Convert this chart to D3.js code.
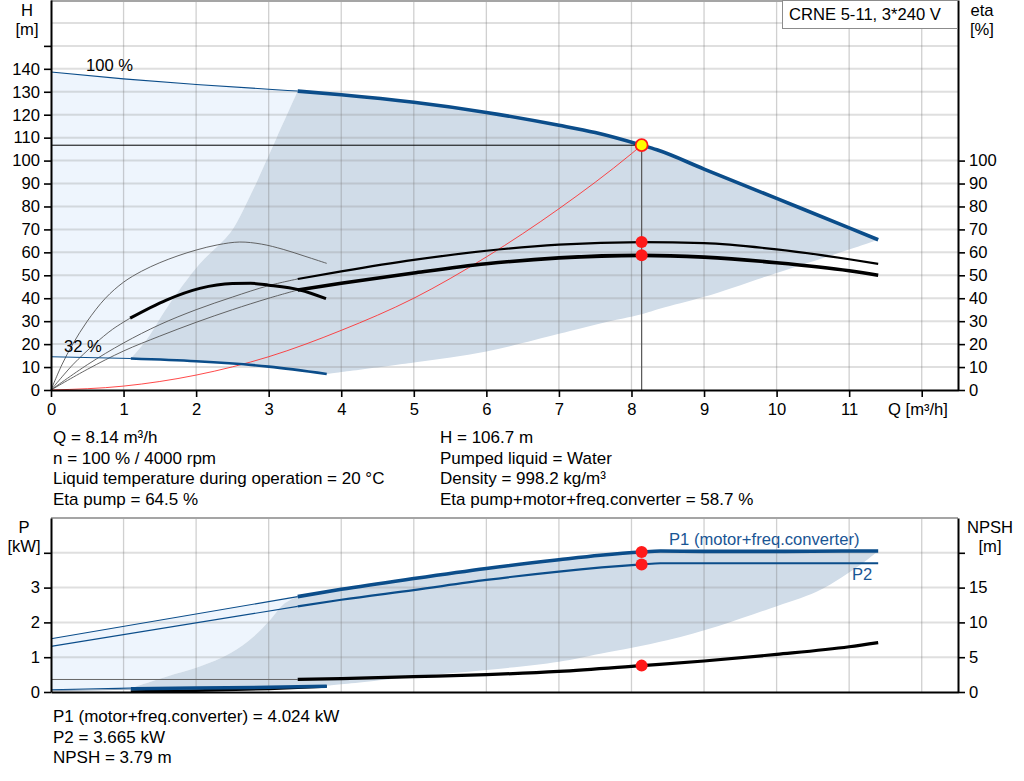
<!DOCTYPE html>
<html><head><meta charset="utf-8">
<script src="https://cdn.jsdelivr.net/npm/d3@7"></script>
<style>
body{margin:0;background:#fff}
svg{display:block;font-family:"Liberation Sans",Arial,sans-serif}
</style>
</head><body><svg id="c" width="1024" height="781"></svg>
<script>
// ---------- DATA (Q in m³/h) ----------
const qTicks = [0,1,2,3,4,5,6,7,8,9,10,11,12];
const qTickLabels = ["0","1","2","3","4","5","6","7","8","9","10","11",""];
const hTicks = [0,10,20,30,40,50,60,70,80,90,100,110,120,130,140,150];
const etaTicks = [0,10,20,30,40,50,60,70,80,90,100];
const pTicks = [0,1,2,3,4];
const npshTicks = [0,5,10,15,20];

// Head curves
const head100Thin = [[0,138.6],[1,135.6],[2,133.2],[3,131.1],[3.4,130.3]];
const head100 = [[3.4,130.3],[4,128.7],[5,125.4],[6,121],[7,115.4],[7.5,112.2],[8.14,106.7],[8.35,104.7],[9,96.3],[10,83.5],[11,70.7],[11.4,65.5]];
const head32Thin = [[0,14.5],[1.1,13.7]];
const head32 = [[1.1,13.7],[2,12.5],[3,10.2],[3.8,7]];
// Operating-range boundaries (head chart)
const headLeftBound = [[1.1,13.7],[1.32,22],[1.6,36],[2.05,55],[2.47,68.5],[2.72,83],[3.11,110],[3.4,130.3]];
const headLowBound = [[3.8,7],[5,12],[6,16.8],[7,24.5],[7.57,29],[8.14,33],[8.4,35.5],[9,40.6],[10,51],[11,61.2],[11.4,65.5]];
// Efficiency curves
const etaPump100Thin = [[0,0],[0.5,11],[1,20.5],[1.5,28.5],[2,35],[2.5,40.5],[3,45.5],[3.4,48.4]];
const etaPump100 = [[3.4,48.4],[4,51.7],[5,56.7],[6,60.7],[7,63.4],[8.14,64.5],[9,64],[10,61.3],[11,57],[11.4,55]];
const etaTot100Thin = [[0,0],[0.5,9],[1,17],[1.5,23.5],[2,29.5],[2.5,35],[3,40],[3.4,43.6]];
const etaTot100 = [[3.4,43.6],[4,46.5],[5,51],[6,55],[7,57.6],[8.14,58.7],[9,57.9],[10,55.5],[11,52],[11.4,50]];
const etaPump32Thin = [[0,0],[0.15,11],[0.3,20],[0.5,30],[0.75,40],[1,47],[1.25,51.8],[1.5,55.5],[1.75,58.5],[2,61],[2.3,63.3],[2.6,64.5],[2.9,63.6],[3.2,61.3],[3.5,58.3],[3.8,55.2]];
const etaTot32Thin = [[0,0],[0.3,11],[0.6,20],[0.85,26.5],[1.09,31.3]];
const etaTot32 = [[1.09,31.3],[1.59,39.2],[2.05,44.3],[2.5,46.4],[2.75,46.5],[3,45.7],[3.43,43.6],[3.79,39.8]];
// System curve
const systemCurve = [[0,0],[1,1.7],[2,6.5],[3,14.5],[4,26],[5,40],[6,58],[7,79],[8,103],[8.14,106.7]];
// Duty point
const dutyQ = 8.14, dutyH = 106.7, dutyEtaPump = 64.5, dutyEtaTot = 58.7;
const dutyP1 = 4.024, dutyP2 = 3.665, dutyNPSH = 3.79;

// Power / NPSH
const p1_100Thin = [[0,1.53],[3.4,2.74]];
const p1_100 = [[3.4,2.74],[4,2.95],[5,3.26],[6,3.55],[7,3.8],[7.57,3.93],[8.14,4.024],[8.4,4.05],[9,4.04],[10,4.04],[11,4.05],[11.4,4.05]];
const p2_100Thin = [[0,1.31],[3.4,2.46]];
const p2_100 = [[3.4,2.46],[4,2.65],[5,2.93],[6,3.22],[7,3.46],[8.14,3.665],[8.4,3.7],[9,3.7],[10,3.7],[11,3.7],[11.4,3.7]];
const p1_32Thin = [[0,0.06],[1.1,0.11]];
const p1_32 = [[1.1,0.11],[2,0.13],[3,0.15],[3.8,0.18]];
const p2_32Thin = [[0,0.04],[1.1,0.08]];
const p2_32 = [[1.1,0.08],[2,0.1],[3,0.12],[3.8,0.15]];
const npsh100Thin = [[0,1.8],[3.4,1.8]];
const npsh100 = [[3.4,1.82],[4,1.92],[5,2.2],[6,2.5],[7,2.95],[8.14,3.79],[9,4.45],[10,5.4],[11,6.5],[11.4,7.1]];
const npsh32 = [[1.1,0.05],[2,0.2],[3,0.45],[3.8,0.78]];
const powLeftBound = [[1.1,0.11],[1.59,0.44],[2.05,0.73],[2.47,1.11],[2.79,1.59],[3.02,2.07],[3.22,2.55],[3.4,2.74]];
const powLowBound = [[3.8,0.18],[4,0.22],[5,0.44],[6,0.63],[7,0.87],[7.57,1.1],[8.49,1.49],[9.2,1.9],[9.91,2.4],[10.55,2.88],[10.9,3.3],[11.2,3.72],[11.4,4.05]];

const infoLeft = ["Q = 8.14 m³/h","n = 100 % / 4000 rpm","Liquid temperature during operation = 20 °C","Eta pump = 64.5 %"];
const infoRight = ["H = 106.7 m","Pumped liquid = Water","Density = 998.2 kg/m³","Eta pump+motor+freq.converter = 58.7 %"];
const infoBottom = ["P1 (motor+freq.converter) = 4.024 kW","P2 = 3.665 kW","NPSH = 3.79 m"];

// ---------- DRAWING ----------
const BLUE = "#0b4d8a", LIGHT = "#eef5fd", DARK = "#d0dce8", FS = 16.6, FI = 17;
const svg = d3.select("#c");
svg.append("rect").attr("width",1024).attr("height",781).attr("fill","#fff");

const x = d3.scaleLinear().domain([0,12.5]).range([51,958]);
const yH = d3.scaleLinear().domain([0,170]).range([390,0]);
const yE = d3.scaleLinear().domain([0,170]).range([390,0]);
const yP = d3.scaleLinear().domain([0,5]).range([692,518]);
const yN = d3.scaleLinear().domain([0,25]).range([692,518]);

const lineOf = (ys, curve) => d3.line().x(d=>x(d[0])).y(d=>ys(d[1])).curve(curve||d3.curveMonotoneX);
const rev = a => a.slice().reverse();
// closed region built from smooth boundary segments
function region(ys, segs){
  const gen = d3.line().x(d=>x(d[0])).y(d=>ys(d[1])).curve(d3.curveCatmullRom.alpha(0.5));
  return segs.map((s,i)=>{ const p = gen(s); return i ? "L"+p.slice(1) : p; }).join("") + "Z";
}

function grid(ys, hVals, top, bottom){
  const g = svg.append("g");
  g.selectAll(".h").data(hVals).join("line")
    .attr("x1",x(0)).attr("x2",x(12.5)).attr("y1",d=>ys(d)).attr("y2",d=>ys(d))
    .attr("stroke","rgba(140,140,140,0.28)").attr("stroke-width",2);
  g.selectAll(".v").data(qTicks.slice(1)).join("line")
    .attr("x1",d=>x(d)).attr("x2",d=>x(d)).attr("y1",top).attr("y2",bottom)
    .attr("stroke","rgba(120,120,120,0.35)").attr("stroke-width",1.3);
}

// --- top chart fills
svg.append("path").attr("fill",LIGHT)
  .attr("d", region(yH, [head100Thin, rev(headLeftBound), rev(head32Thin)]));
svg.append("path").attr("fill",DARK)
  .attr("d", region(yH, [head100, rev(headLowBound), rev(head32), headLeftBound]));
grid(yH, d3.range(10,170,10), yH(170), yH(0));
svg.append("line").attr("x1",x(0)).attr("x2",x(12.5)).attr("y1",1).attr("y2",1)
  .attr("stroke","#a5a5a5").attr("stroke-width",2);

// --- bottom chart fills
svg.append("path").attr("fill",LIGHT)
  .attr("d", region(yP, [p1_100Thin, rev(powLeftBound), rev(p1_32Thin)]));
svg.append("path").attr("fill",DARK)
  .attr("d", region(yP, [p1_100, rev(powLowBound), rev(p1_32), powLeftBound]));
grid(yP, [1,2,3,4], yP(5), yP(0));
svg.append("line").attr("x1",x(0)).attr("x2",x(12.5)).attr("y1",yP(5)).attr("y2",yP(5))
  .attr("stroke","#a5a5a5").attr("stroke-width",2);

function drawLine(ys, data, color, w, curve, op){
  svg.append("path").attr("d", lineOf(ys, curve)(data)).attr("fill","none")
    .attr("stroke",color).attr("stroke-width",w).attr("stroke-linecap","butt")
    .attr("stroke-opacity", op==null?1:op);
}

// thin extensions
drawLine(yE, etaPump32Thin, "#555", 0.9, d3.curveCatmullRom.alpha(0.5));
drawLine(yE, etaTot32Thin, "#555", 0.9, d3.curveCatmullRom.alpha(0.5));
drawLine(yE, etaPump100Thin, "#555", 0.9, d3.curveCatmullRom.alpha(0.5));
drawLine(yE, etaTot100Thin, "#555", 0.9, d3.curveCatmullRom.alpha(0.5));
drawLine(yH, head100Thin, BLUE, 1.1);
drawLine(yH, head32Thin, BLUE, 1.1, d3.curveLinear);
// system curve
drawLine(yH, systemCurve, "#ff2a2a", 1, d3.curveMonotoneX, 0.85);
// thick
drawLine(yE, etaTot32, "#000", 3);
drawLine(yE, etaPump100, "#000", 2.2);
drawLine(yE, etaTot100, "#000", 3.6);
drawLine(yH, head32, BLUE, 2.6);
drawLine(yH, head100, BLUE, 3.6);

// duty lines
svg.append("line").attr("x1",x(0)).attr("x2",x(dutyQ)).attr("y1",yH(dutyH)).attr("y2",yH(dutyH))
  .attr("stroke","#000").attr("stroke-width",1);
svg.append("line").attr("x1",x(dutyQ)).attr("x2",x(dutyQ)).attr("y1",yH(dutyH)).attr("y2",yH(0))
  .attr("stroke","#555").attr("stroke-width",1.2);

// bottom chart lines
drawLine(yP, p1_100Thin, BLUE, 1.1, d3.curveLinear);
drawLine(yP, p2_100Thin, BLUE, 1.1, d3.curveLinear);
drawLine(yN, npsh100Thin, "#666", 1, d3.curveLinear);
drawLine(yP, p1_32Thin, BLUE, 1.1, d3.curveLinear);
drawLine(yP, p2_32Thin, "#8aa0b8", 1, d3.curveLinear);
drawLine(yN, npsh32, "#000", 2.6);
drawLine(yP, p2_32, BLUE, 2.4);
drawLine(yP, p1_32, BLUE, 2.4);
drawLine(yP, p1_100, BLUE, 3.6);
drawLine(yP, p2_100, BLUE, 2.2);
drawLine(yN, npsh100, "#000", 3.2);

// duty dots
const dots = [[yE,dutyEtaPump],[yE,dutyEtaTot],[yP,dutyP1],[yP,dutyP2],[yN,dutyNPSH]];
svg.selectAll(".dot").data(dots).join("circle")
  .attr("cx",x(dutyQ)).attr("cy",d=>d[0](d[1])).attr("r",6).attr("fill","#ff1a1a");
svg.append("circle").attr("cx",x(dutyQ)).attr("cy",yH(dutyH)).attr("r",6)
  .attr("fill","#ffff00").attr("stroke","#ff1a1a").attr("stroke-width",1.8);

// ---------- AXES ----------
function styleAxis(g){
  g.attr("font-family","Liberation Sans, Arial, sans-serif").attr("font-size",FS);
  g.select(".domain").attr("stroke","#000").attr("stroke-width",2);
  g.selectAll(".tick line").attr("stroke","#000").attr("stroke-width",1.6);
  g.selectAll(".tick text").attr("fill","#000");
}
svg.append("g").attr("transform",`translate(0,${yH(0)})`)
  .call(d3.axisBottom(x).tickValues(qTicks).tickFormat((d,i)=>qTickLabels[i]).tickSize(7).tickSizeOuter(0).tickPadding(6))
  .call(styleAxis);
svg.append("g").attr("transform",`translate(${x(0)},0)`)
  .call(d3.axisLeft(yH).tickValues(hTicks).tickFormat(d=>d<=140?d:"").tickSize(7).tickSizeOuter(0).tickPadding(4))
  .call(styleAxis);
svg.append("g").attr("transform",`translate(${x(12.5)},0)`)
  .call(d3.axisRight(yE).tickValues(etaTicks).tickSize(7).tickSizeOuter(0).tickPadding(4))
  .call(styleAxis);
svg.append("g").attr("transform",`translate(0,${yP(0)})`)
  .call(d3.axisBottom(x).tickValues([]).tickSizeOuter(0))
  .call(styleAxis);
svg.append("g").attr("transform",`translate(${x(0)},0)`)
  .call(d3.axisLeft(yP).tickValues(pTicks).tickFormat(d=>d<=3?d:"").tickSize(7).tickSizeOuter(0).tickPadding(4))
  .call(styleAxis);
svg.append("g").attr("transform",`translate(${x(12.5)},0)`)
  .call(d3.axisRight(yN).tickValues(npshTicks).tickFormat(d=>d<=15?d:"").tickSize(7).tickSizeOuter(0).tickPadding(4))
  .call(styleAxis);

// ---------- TEXT ----------
const T = (tx,ty,s,opt={}) => svg.append("text").attr("x",tx).attr("y",ty).text(s)
  .attr("font-size",opt.size||FS).attr("fill",opt.fill||"#000")
  .attr("text-anchor",opt.anchor||"start");
T(27,16,"H",{anchor:"middle"});
T(27,35,"[m]",{anchor:"middle"});
T(982,16,"eta",{anchor:"middle"});
T(982,35,"[%]",{anchor:"middle"});
T(24,533,"P",{anchor:"middle"});
T(24,552,"[kW]",{anchor:"middle"});
T(990,533,"NPSH",{anchor:"middle"});
T(990,552,"[m]",{anchor:"middle"});
T(86,71,"100 %");
T(64,352,"32 %");
T(888,415,"Q [m³/h]");
T(669,545,"P1 (motor+freq.converter)",{fill:"#1a5594"});
T(852,580,"P2",{fill:"#1a5594"});

svg.append("rect").attr("x",782.5).attr("y",0.5).attr("width",175).attr("height",28)
  .attr("fill","#fff").attr("stroke","#8c8c8c").attr("stroke-width",1);
T(789,20,"CRNE 5-11, 3*240 V");

infoLeft.forEach((s,i)=>T(53,443+i*20.5,s,{size:FI}));
infoRight.forEach((s,i)=>T(440,443+i*20.5,s,{size:FI}));
infoBottom.forEach((s,i)=>T(53,722+i*20.5,s,{size:FI}));
</script></body></html>
